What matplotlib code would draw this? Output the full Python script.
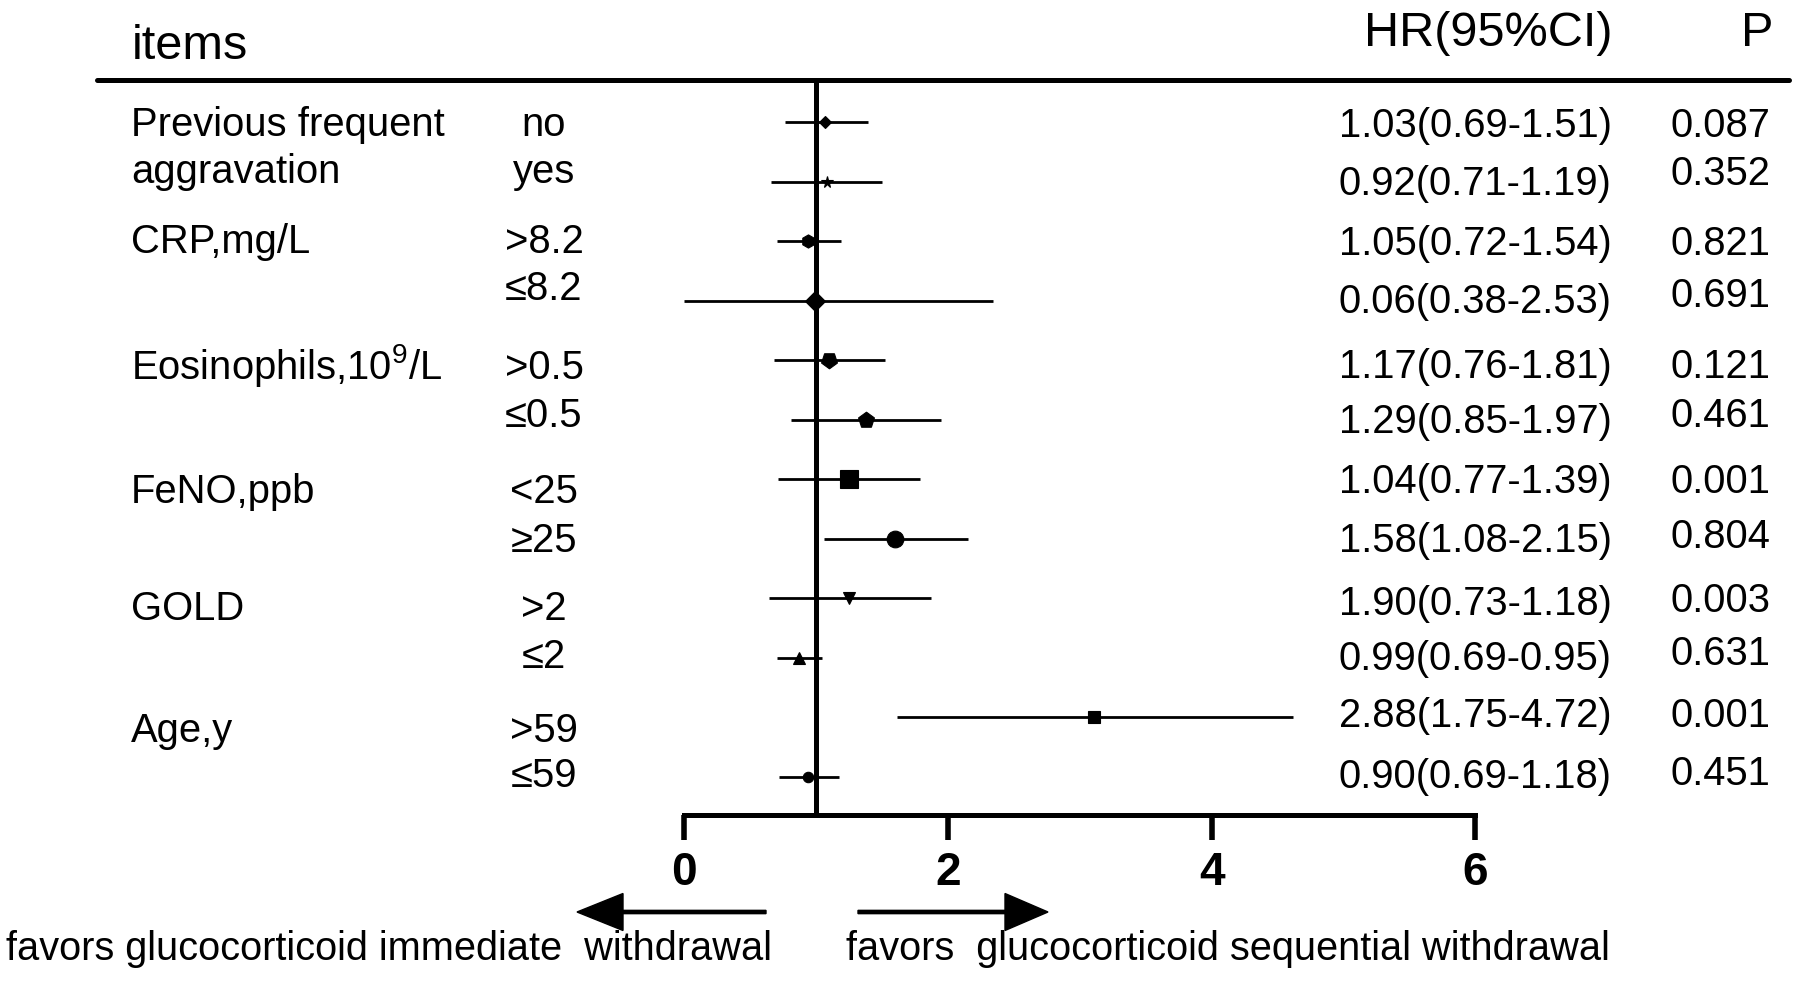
import matplotlib
matplotlib.use('Agg')
import matplotlib.pyplot as plt
from matplotlib.transforms import Affine2D
from matplotlib.lines import Line2D
from matplotlib.patches import FancyArrow

plt.rcParams['font.family'] = ['Liberation Sans', 'DejaVu Sans']
plt.rcParams['mathtext.fontset'] = 'custom'
plt.rcParams['mathtext.rm'] = 'Liberation Sans'
plt.rcParams['mathtext.it'] = 'Liberation Sans:italic'
plt.rcParams['mathtext.bf'] = 'Liberation Sans:bold'

# ---------------- data ----------------
group_labels = [["Previous frequent", "aggravation"], ["CRP,mg/L"],
                ["Eosinophils,10$^{9}$/L"], ["FeNO,ppb"], ["GOLD"], ["Age,y"]]
subgroups = ['no', 'yes', '>8.2', '≤8.2', '>0.5', '≤0.5',
             '<25', '≥25', '>2', '≤2', '>59', '≤59']
hr_point = [1.07, 1.08, 0.94, 0.99, 1.10, 1.38, 1.25, 1.60, 1.25, 0.87, 3.11, 0.94]
ci_low = [0.76, 0.66, 0.70, 0.00, 0.68, 0.81, 0.71, 1.06, 0.64, 0.70, 1.61, 0.72]
ci_high = [1.39, 1.50, 1.19, 2.34, 1.52, 1.95, 1.79, 2.15, 1.87, 1.04, 4.62, 1.17]
hr_text = ['1.03(0.69-1.51)', '0.92(0.71-1.19)', '1.05(0.72-1.54)', '0.06(0.38-2.53)',
           '1.17(0.76-1.81)', '1.29(0.85-1.97)', '1.04(0.77-1.39)', '1.58(1.08-2.15)',
           '1.90(0.73-1.18)', '0.99(0.69-0.95)', '2.88(1.75-4.72)', '0.90(0.69-1.18)']
p_text = ['0.087', '0.352', '0.821', '0.691', '0.121', '0.461',
          '0.001', '0.804', '0.003', '0.631', '0.001', '0.451']
x_ticks = [0, 2, 4, 6]
ref_value = 1
headers = ['items', 'HR(95%CI)', 'P']
favors_left = 'favors glucocorticoid immediate  withdrawal'
favors_right = 'favors  glucocorticoid sequential withdrawal'

# ---------------- styles / layout ----------------
markers = ['D', '*', 'h', 'D', (5, 0, 180), (5, 0, 0), 's', 'o', 'v', '^', 's', 'o']
msizes = [6, 8.5, 9.5, 10, 12, 12, 13, 12, 9, 8, 8.8, 7.5]

W, H = 1797, 981
fig = plt.figure(figsize=(W / 100, H / 100), dpi=100)
pix = Affine2D().scale(1 / W, -1 / H).translate(0, 1) + fig.transFigure

X0PX, PXPU = 684.4, 131.83
ROW0PX, ROWPX = 122.3, 59.5
AXIS_PX, TOP_PX = 815, 80

ax = fig.add_axes([0, 0, 1, 1])
ax.patch.set_visible(False)
ax.set_xlim(-X0PX / PXPU, (W - X0PX) / PXPU)
ax.set_ylim((H - ROW0PX) / ROWPX, -ROW0PX / ROWPX)
axis_row = (AXIS_PX - ROW0PX) / ROWPX
top_row = (TOP_PX - ROW0PX) / ROWPX

rows = list(range(len(subgroups)))
ax.hlines(rows, ci_low, ci_high, color='black', lw=2.0)
for r in rows:
    ax.plot(hr_point[r], r, marker=markers[r], ms=msizes[r], color='black',
            mec='black', mew=0.8, ls='none', zorder=5)
ax.vlines(ref_value, top_row, axis_row, color='black', lw=3.6, zorder=4)

for s in ['left', 'right', 'top']:
    ax.spines[s].set_visible(False)
ax.spines['bottom'].set_position(('data', axis_row))
ax.spines['bottom'].set_bounds(x_ticks[0], x_ticks[-1])
ax.spines['bottom'].set_linewidth(3.6)
ax.set_yticks([])
ax.set_xticks(x_ticks)
ax.set_xticklabels([str(t) for t in x_ticks], fontsize=33, fontweight='bold')
ax.tick_params(axis='x', direction='out', length=18, width=4, pad=8)

# top separator line
fig.add_artist(Line2D([97, 1789], [80, 80], transform=pix, color='black',
                      lw=3.6, solid_capstyle='round'))

# headers
fig.text(132, 59, headers[0], transform=pix, fontsize=35, va='baseline', ha='left')
fig.text(1364, 46, headers[1], transform=pix, fontsize=35, va='baseline', ha='left')
fig.text(1741, 46, headers[2], transform=pix, fontsize=35, va='baseline', ha='left')

# row texts
group_base = [136, 253, 379, 503, 620, 742]
for lines, yb in zip(group_labels, group_base):
    for k, line in enumerate(lines):
        fig.text(131, yb + 47 * k, line, transform=pix, fontsize=28.8,
                 va='baseline', ha='left')

sub_base = [136, 183, 253, 300, 379, 427, 503, 552, 620, 668, 742, 787]
for s, yb in zip(subgroups, sub_base):
    fig.text(544, yb, s, transform=pix, fontsize=28.8, va='baseline', ha='center')

hr_base = [136.7, 195, 255, 313, 378, 433, 493, 551.7, 615, 670, 726.7, 788.3]
for s, yb in zip(hr_text, hr_base):
    fig.text(1339, yb, s, transform=pix, fontsize=28.8, va='baseline', ha='left')

p_base = [136.7, 185, 255, 306.7, 378, 426.7, 493, 548.3, 611.7, 665, 726.7, 785]
for s, yb in zip(p_text, p_base):
    fig.text(1670, yb, s, transform=pix, fontsize=28.8, va='baseline', ha='left')

# arrows
fig.add_artist(FancyArrow(766, 912, -189, 0, width=3.3, head_width=37, head_length=46,
                          length_includes_head=True, color='black', transform=pix))
fig.add_artist(FancyArrow(858, 912, 190, 0, width=3.3, head_width=37, head_length=43,
                          length_includes_head=True, color='black', transform=pix))

fig.text(6, 960, favors_left, transform=pix, fontsize=28.6, va='baseline', ha='left')
fig.text(846, 960, favors_right, transform=pix, fontsize=28.6, va='baseline', ha='left')

fig.savefig('out.png', dpi=100)
